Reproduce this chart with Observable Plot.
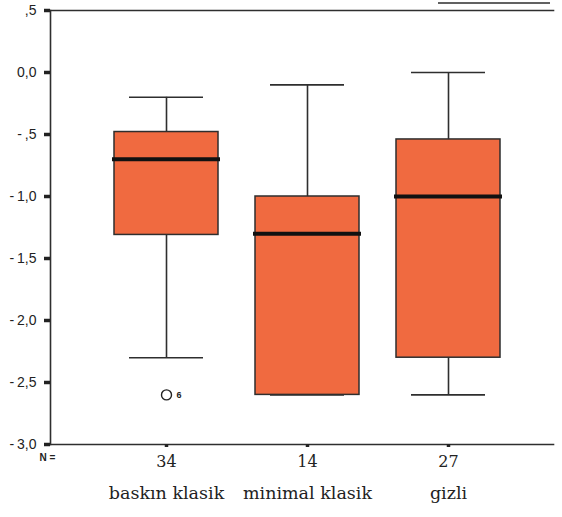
<!DOCTYPE html>
<html><head><meta charset="utf-8">
<script src="https://cdn.jsdelivr.net/npm/d3@7"></script>
<script src="https://cdn.jsdelivr.net/npm/@observablehq/plot@0.6"></script>
<style>
body{margin:0;background:#fff;}
#chart{position:relative;width:562px;height:517px;}
#scan{position:absolute;left:438px;top:2px;width:112px;height:2px;background:#3a3a3a;opacity:.8;}
</style>
</head><body><div id="chart"><div id="scan"></div></div>
<script>
const groups = ["baskın klasik", "minimal klasik", "gizli"];
const counts = [34, 14, 27];
const whiskerHigh = [-0.2, -0.1, 0.0];
const q3 = [-0.48, -1.0, -0.54];
const median = [-0.7, -1.3, -1.0];
const q1 = [-1.31, -2.6, -2.3];
const whiskerLow = [-2.3, -2.6, -2.6];
const outlierGroup = ["baskın klasik"];
const outlierValue = [-2.6];
const outlierCase = ["6"];
const yTicks = [0.5, 0, -0.5, -1, -1.5, -2, -2.5, -3];
const yTickLabels = [",5", "0,0", "-\u2009,5", "-\u20091,0", "-\u20091,5", "-\u20092,0", "-\u20092,5", "-\u20093,0"];

const rows = groups.map((g, i) => ({g, n: String(counts[i]), hi: whiskerHigh[i], q3: q3[i], med: median[i], q1: q1[i], lo: whiskerLow[i]}));
const outliers = outlierGroup.map((g, i) => ({g, v: outlierValue[i], label: outlierCase[i]}));

const orange = "#f06a40";
const dark = "#2e2e2e";
const capInset = 15;
const serif = "DejaVu Serif";

const chart = Plot.plot({
  width: 562, height: 517,
  marginLeft: 50, marginTop: 10, marginRight: 9, marginBottom: 73,
  x: {domain: groups, range: [113, 500], paddingInner: 0.265, paddingOuter: 0, axis: null},
  y: {domain: [-3, 0.5], axis: null},
  style: {background: "white", fontFamily: "Liberation Sans", overflow: "visible"},
  marks: [
    Plot.frame({anchor: "left", stroke: dark, strokeWidth: 1.6}),
    Plot.frame({anchor: "top", stroke: dark, strokeWidth: 1.6}),
    Plot.frame({anchor: "bottom", stroke: dark, strokeWidth: 1.6}),
    Plot.axisY({ticks: yTicks, tickFormat: d => yTickLabels[yTicks.indexOf(d)], tickSize: 6, tickPadding: 8,
      strokeWidth: 3.5, color: "#222", fontSize: 14, label: null}),
    Plot.axisX({tickFormat: () => "", tickSize: 3, strokeWidth: 3.5, color: "#222", label: null}),
    Plot.text(rows, {x: "g", text: "n", frameAnchor: "bottom", dy: 22, fontSize: 16, fontFamily: serif, fill: "#222"}),
    Plot.text(rows, {x: "g", text: "g", frameAnchor: "bottom", dy: 54, fontSize: 17.5, fontFamily: serif, fill: "#222"}),
    Plot.text(["N ="], {frameAnchor: "bottom-left", dx: -11, dy: 16, textAnchor: "start", fontSize: 10, fontWeight: "bold", fill: "#222"}),
    Plot.ruleX(rows, {x: "g", y1: "q3", y2: "hi", stroke: dark, strokeWidth: 1.6}),
    Plot.ruleX(rows, {x: "g", y1: "q1", y2: "lo", stroke: dark, strokeWidth: 1.6}),
    Plot.tickY(rows, {x: "g", y: "hi", stroke: dark, strokeWidth: 1.6, insetLeft: capInset, insetRight: capInset}),
    Plot.tickY(rows, {x: "g", y: "lo", stroke: dark, strokeWidth: 1.6, insetLeft: capInset, insetRight: capInset}),
    Plot.barY(rows, {x: "g", y1: "q1", y2: "q3", fill: orange, stroke: dark, strokeWidth: 1.5}),
    Plot.tickY(rows, {x: "g", y: "med", stroke: "#111", strokeWidth: 4, insetLeft: -2, insetRight: -2}),
    Plot.dot(outliers, {x: "g", y: "v", r: 5, stroke: "#222", fill: "white", strokeWidth: 1.4}),
    Plot.text(outliers, {x: "g", y: "v", text: "label", dx: 10, textAnchor: "start", fontSize: 9, fontWeight: "bold", fill: "#222"})
  ]
});
document.getElementById("chart").appendChild(chart);
</script>
</body></html>
